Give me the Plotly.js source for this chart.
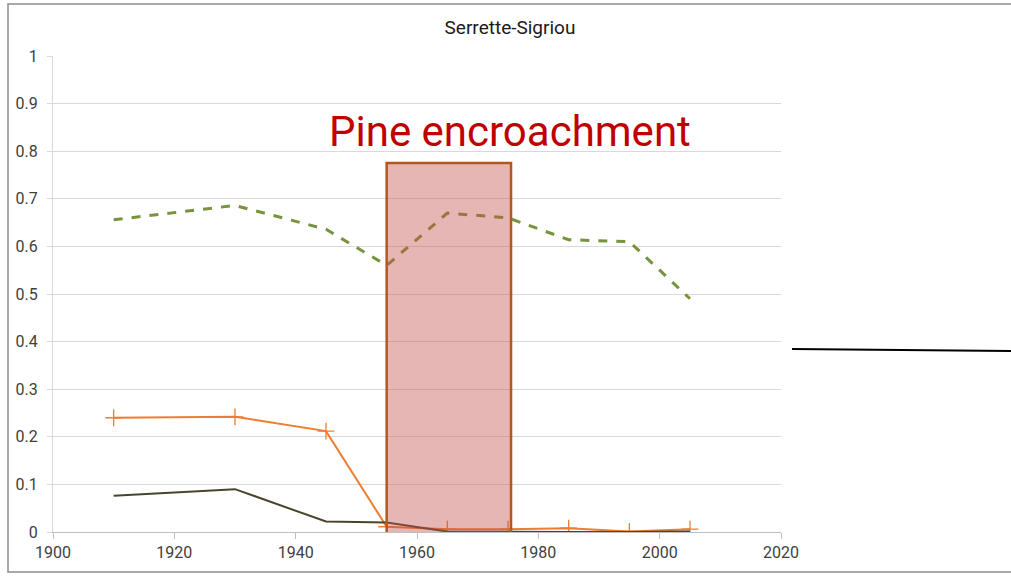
<!DOCTYPE html>
<html>
<head>
<meta charset="utf-8">
<script src="https://cdn.plot.ly/plotly-3.0.1.min.js"></script>
<style>html,body{margin:0;padding:0;background:#fff;}#chart{width:1011px;height:577px;}</style>
</head>
<body>
<div id="chart"></div>
<script>
// Data
const years = [1910, 1930, 1945, 1955, 1965, 1975, 1985, 1995, 2005];
const seriesGreen = [0.656, 0.686, 0.636, 0.560, 0.670, 0.660, 0.614, 0.610, 0.490];
const seriesOrange = [0.240, 0.242, 0.212, 0.011, 0.006, 0.006, 0.008, 0.001, 0.006];
const seriesDark = [0.076, 0.090, 0.022, 0.020, 0.001, 0.000, 0.000, 0.000, 0.001];
const chartTitle = "Serrette-Sigriou";
const periodLabel = "Pine encroachment";
const periodStart = 1955;
const periodEnd = 1975.5;
const periodTop = 0.775;

const W = 1011, H = 577;
const mL = 53, mR = W - 781, mT = 56, mB = H - 532;
const pw = W - mL - mR, ph = H - mT - mB;
const px = x => (x - mL) / pw;
const py = y => (H - mB - y) / ph;

const FONT = "Roboto, sans-serif";
const tickFont = {family: FONT, size: 16, color: "#404040"};

const traces = [
  {x: years, y: seriesGreen, type: "scatter", mode: "lines",
   line: {color: "#77933c", width: 3, dash: "dash"}, hoverinfo: "skip"},
  {x: years, y: seriesOrange, type: "scatter", mode: "lines+markers",
   line: {color: "#ed7d31", width: 2},
   marker: {symbol: "cross-thin", size: 12, color: "#ed7d31", line: {color: "#ed7d31", width: 1.3}}, hoverinfo: "skip"},
  {x: years, y: seriesDark, type: "scatter", mode: "lines",
   line: {color: "#4a452a", width: 2}, hoverinfo: "skip"}
];

const layout = {
  width: W, height: H,
  margin: {l: mL, r: mR, t: mT, b: mB, pad: 0},
  paper_bgcolor: "#fff", plot_bgcolor: "#fff",
  showlegend: false,
  title: {text: chartTitle, xref: "container", yref: "container", x: 510 / W, xanchor: "center",
          y: 1 - 27 / H, yanchor: "middle",
          font: {family: FONT, size: 19, color: "#1a1a1a"}},
  xaxis: {range: [1900, 2020], tick0: 1900, dtick: 20, showgrid: false, zeroline: false,
          showline: true, linecolor: "#bfbfbf", linewidth: 1, ticks: "outside", ticklen: 6,
          tickcolor: "#bfbfbf", tickfont: tickFont, fixedrange: true},
  yaxis: {range: [0, 1], dtick: 0.1, showgrid: true, gridcolor: "#d9d9d9", gridwidth: 1,
          zeroline: false, showline: true, linecolor: "#d9d9d9", linewidth: 1,
          ticks: "outside", ticklen: 5, tickcolor: "#d9d9d9", tickfont: tickFont,
          ticklabelstandoff: 6, fixedrange: true},
  shapes: [
    {type: "rect", xref: "x", yref: "y", x0: periodStart, x1: periodEnd, y0: -0.006, y1: periodTop,
     fillcolor: "rgba(192,80,77,0.42)", line: {color: "#b5561f", width: 2.5}, layer: "above"},
    {type: "rect", xref: "paper", yref: "paper", x0: px(8), x1: px(1030), y0: py(572), y1: py(4),
     fillcolor: "rgba(0,0,0,0)", line: {color: "#8c8c8c", width: 1.5}, layer: "below"},
    {type: "line", xref: "paper", yref: "paper", x0: px(792), x1: px(1012), y0: py(349), y1: py(351),
     line: {color: "#000", width: 2.2}}
  ],
  annotations: [
    {text: periodLabel, xref: "paper", yref: "paper", x: px(510), y: py(131), xanchor: "center", yanchor: "middle",
     showarrow: false, font: {family: FONT, size: 42, color: "#c00000"}}
  ]
};

Plotly.newPlot("chart", traces, layout, {staticPlot: true, displayModeBar: false});
</script>
</body>
</html>
